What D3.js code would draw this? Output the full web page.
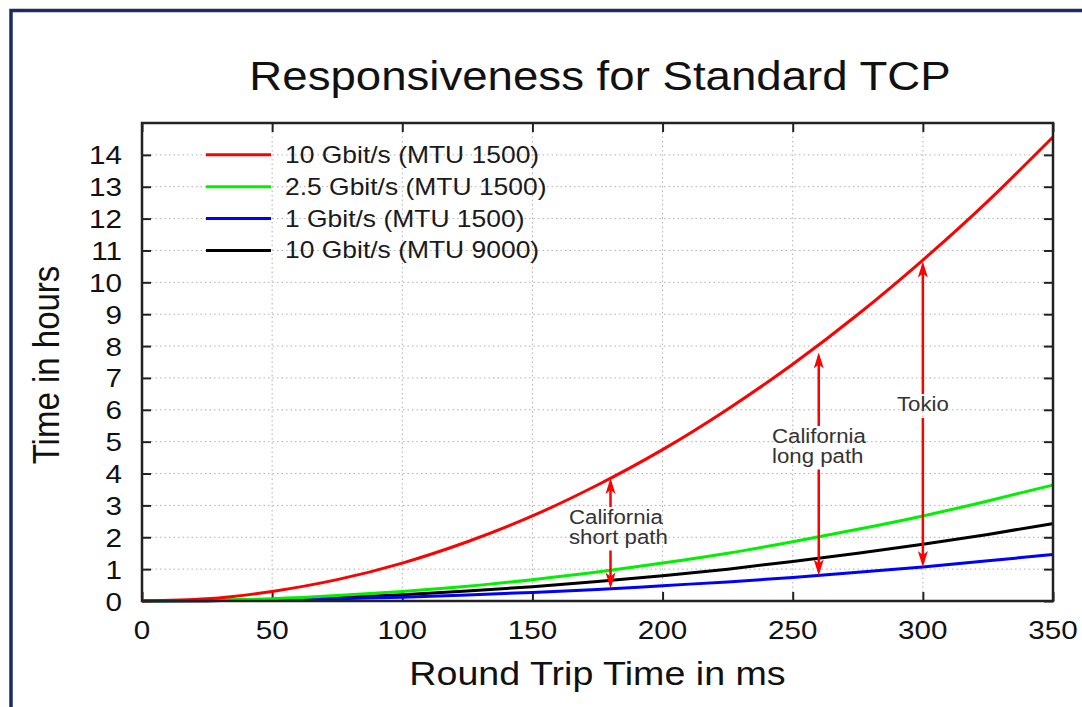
<!DOCTYPE html>
<html>
<head>
<meta charset="utf-8">
<script src="https://cdn.jsdelivr.net/npm/d3@7"></script>
<style>
  body { margin: 0; background: #fff; }
  svg text { font-family: "Liberation Sans", Arial, Helvetica, sans-serif; }
</style>
</head>
<body>
<div id="chart"></div>
<script>
// round trip time in ms
var rtt = [0, 25, 50, 75, 100, 125, 150, 175, 200, 225, 250, 275, 300, 325, 350];

// time in hours
var gbit10 = [0, 0.07, 0.30, 0.67, 1.19, 1.86, 2.67, 3.64, 4.75, 6.02, 7.43, 8.99, 10.70, 12.55, 14.56];
var gbit25 = [0, 0.02, 0.07, 0.17, 0.30, 0.46, 0.67, 0.91, 1.19, 1.50, 1.86, 2.25, 2.67, 3.14, 3.64];
var gbit1 = [0, 0.01, 0.03, 0.07, 0.12, 0.19, 0.27, 0.36, 0.48, 0.60, 0.74, 0.90, 1.07, 1.26, 1.46];
var gbit10jumbo = [0, 0.01, 0.05, 0.11, 0.20, 0.31, 0.45, 0.61, 0.79, 1.00, 1.24, 1.50, 1.78, 2.09, 2.43];

var seriesNames = ['10 Gbit/s (MTU 1500)', '2.5 Gbit/s (MTU 1500)', '1 Gbit/s (MTU 1500)', '10 Gbit/s (MTU 9000)'];
var seriesColors = ['#ff0000', '#00f000', '#0000ff', '#000000'];

var xTicks = [0, 50, 100, 150, 200, 250, 300, 350];
var yTicks = [0, 1, 2, 3, 4, 5, 6, 7, 8, 9, 10, 11, 12, 13, 14];

// annotations: x position, arrow from (blue curve) to (red curve), label lines
var notes = [
  { x: 180, lo: 0.39, hi: 3.86, lines: ['California', 'short path'], tx: 569, ty: 524 },
  { x: 260, lo: 0.80, hi: 7.8, lines: ['California', 'long path'], tx: 772, ty: 443 },
  { x: 300, lo: 1.07, hi: 10.65, lines: ['Tokio'], tx: 897, ty: 411 }
];

var W = 1082, H = 707;
var padL = 142, padR = 1053, padT = 123, padB = 601;
var STRETCH = 1.14;

var svg = d3.select('#chart').append('svg')
  .attr('width', W)
  .attr('height', H);

// outer frame
svg.append('rect')
  .attr('x', 11).attr('y', 10.5)
  .attr('width', W + 20).attr('height', H + 20)
  .attr('fill', 'none')
  .attr('stroke', '#1f2b5e')
  .attr('stroke-width', 3.5);

var x = d3.scaleLinear().domain([0, 350]).range([padL, padR]);
var y = d3.scaleLinear().domain([0, 15]).range([padB, padT]);

var stretch = function(sel, k) {
  sel.each(function() {
    var len = this.getComputedTextLength();
    d3.select(this)
      .attr('textLength', len * (k || STRETCH))
      .attr('lengthAdjust', 'spacingAndGlyphs');
  });
};

// grid
svg.append('g').selectAll('line')
  .data(xTicks.slice(1, -1))
  .enter().append('line')
  .attr('x1', function(d) { return x(d); })
  .attr('x2', function(d) { return x(d); })
  .attr('y1', padT).attr('y2', padB)
  .attr('stroke', '#b0b0b0')
  .attr('stroke-dasharray', '1.5,3');

svg.append('g').selectAll('line')
  .data(yTicks.slice(1))
  .enter().append('line')
  .attr('y1', function(d) { return y(d); })
  .attr('y2', function(d) { return y(d); })
  .attr('x1', padL).attr('x2', padR)
  .attr('stroke', '#b0b0b0')
  .attr('stroke-dasharray', '1.5,3');

// axes, ticks pointing inward on all four sides
var axisStyle = function(g) {
  g.select('.domain').remove();
  g.selectAll('.tick line').attr('stroke', '#222').attr('stroke-width', 2);
  g.selectAll('text').remove();
};

svg.append('g').attr('transform', 'translate(0,' + padB + ')')
  .call(d3.axisBottom(x).tickValues(xTicks).tickSize(-9)).call(axisStyle);
svg.append('g').attr('transform', 'translate(0,' + padT + ')')
  .call(d3.axisTop(x).tickValues(xTicks).tickSize(-9)).call(axisStyle);
svg.append('g').attr('transform', 'translate(' + padL + ',0)')
  .call(d3.axisLeft(y).tickValues(yTicks).tickSize(-9)).call(axisStyle);
svg.append('g').attr('transform', 'translate(' + padR + ',0)')
  .call(d3.axisRight(y).tickValues(yTicks).tickSize(-9)).call(axisStyle);

// tick labels
svg.append('g').selectAll('text')
  .data(xTicks)
  .enter().append('text')
  .attr('x', function(d) { return x(d); })
  .attr('y', 639)
  .attr('text-anchor', 'middle')
  .attr('font-size', 26)
  .attr('fill', '#111')
  .text(function(d) { return d; })
  .call(stretch);

svg.append('g').selectAll('text')
  .data(yTicks)
  .enter().append('text')
  .attr('x', 122)
  .attr('y', function(d) { return y(d) + 9.5; })
  .attr('text-anchor', 'end')
  .attr('font-size', 26)
  .attr('fill', '#111')
  .text(function(d) { return d; })
  .call(stretch);

// curves
var allSeries = [gbit10, gbit25, gbit1, gbit10jumbo];
var line = d3.line()
  .x(function(d, i) { return x(rtt[i]); })
  .y(function(d) { return y(d); })
  .curve(d3.curveNatural);

// draw in reverse so red ends on top
svg.append('g').selectAll('path')
  .data(allSeries.map(function(s, i) { return { v: s, i: i }; }).reverse())
  .enter().append('path')
  .attr('d', function(d) { return line(d.v); })
  .attr('fill', 'none')
  .attr('stroke', function(d) { return seriesColors[d.i]; })
  .attr('stroke-width', 3);

// border
svg.append('rect')
  .attr('x', padL).attr('y', padT)
  .attr('width', padR - padL).attr('height', padB - padT)
  .attr('fill', 'none')
  .attr('stroke', '#222')
  .attr('stroke-width', 2.5);

// legend
var legend = svg.append('g');
seriesNames.forEach(function(name, i) {
  var ly = y(14 - i);
  legend.append('line')
    .attr('x1', 206).attr('x2', 271)
    .attr('y1', ly).attr('y2', ly)
    .attr('stroke', seriesColors[i])
    .attr('stroke-width', 3);
  legend.append('text')
    .attr('x', 285).attr('y', ly + 8)
    .attr('font-size', 23.2)
    .attr('fill', '#1a1a1a')
    .text(name)
    .call(stretch);
});

// arrows with a gap where the label sits
var arrowHead = function(g, px, py, dir) {
  // dir -1 = pointing up, 1 = pointing down
  g.append('path')
    .attr('d', 'M' + px + ',' + py +
      'L' + (px - 5) + ',' + (py - dir * 16) +
      'L' + px + ',' + (py - dir * 12) +
      'L' + (px + 5) + ',' + (py - dir * 16) + 'Z')
    .attr('fill', '#ff0000');
};

var notesG = svg.append('g');
notes.forEach(function(n) {
  var ax = x(n.x);
  var yHi = y(n.hi), yLo = y(n.lo);
  n.lines.forEach(function(s, k) {
    notesG.append('text')
      .attr('x', n.tx).attr('y', n.ty + k * 19.5)
      .attr('font-size', 19.5)
      .attr('fill', '#333')
      .text(s)
      .call(stretch);
  });
  var gapTop = n.ty - 17;
  var gapBot = n.ty + (n.lines.length - 1) * 19.5 + 7;
  notesG.append('line')
    .attr('x1', ax).attr('x2', ax)
    .attr('y1', yHi + 4).attr('y2', gapTop)
    .attr('stroke', '#ff0000').attr('stroke-width', 2.5);
  notesG.append('line')
    .attr('x1', ax).attr('x2', ax)
    .attr('y1', gapBot).attr('y2', yLo - 4)
    .attr('stroke', '#ff0000').attr('stroke-width', 2.5);
  arrowHead(notesG, ax, yHi, -1);
  arrowHead(notesG, ax, yLo, 1);
});

// title and axis labels
svg.append('text')
  .attr('x', 600).attr('y', 90)
  .attr('text-anchor', 'middle')
  .attr('font-size', 40)
  .attr('fill', '#111')
  .text('Responsiveness for Standard TCP')
  .call(stretch);

svg.append('text')
  .attr('x', (padL + padR) / 2).attr('y', 685)
  .attr('text-anchor', 'middle')
  .attr('font-size', 33)
  .attr('fill', '#111')
  .text('Round Trip Time in ms')
  .call(stretch);

svg.append('text')
  .attr('transform', 'translate(59,' + ((padT + padB) / 2 + 3) + ') rotate(-90) scale(1,' + STRETCH + ')')
  .attr('text-anchor', 'middle')
  .attr('font-size', 33)
  .attr('fill', '#111')
  .text('Time in hours');
</script>
</body>
</html>
